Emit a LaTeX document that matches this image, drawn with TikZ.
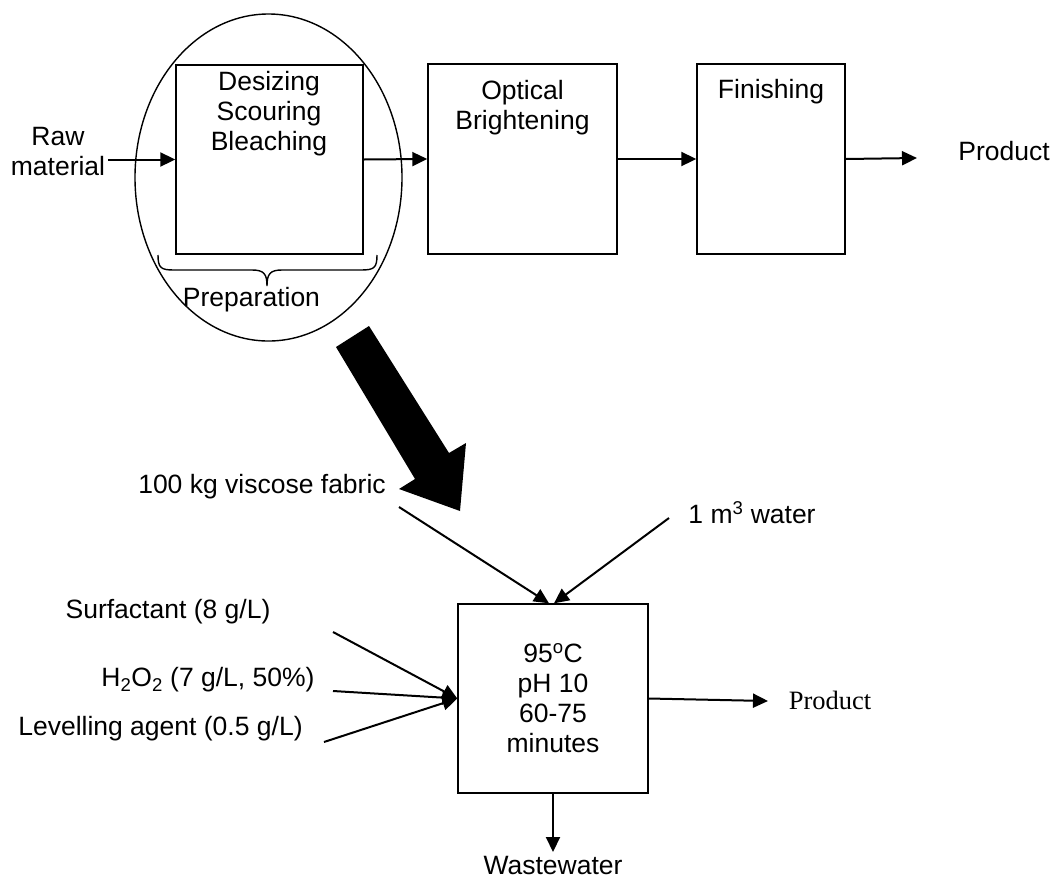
\documentclass[tikz,border=0pt]{standalone}
\usepackage{fontspec}
\setmainfont{Liberation Sans}
\newfontfamily\serifprod{Liberation Serif}
\usetikzlibrary{arrows.meta,shapes.geometric}
\begin{document}
\begin{tikzpicture}[x=1pt,y=-1pt,
  box/.style={draw,line width=1.4pt,inner sep=0pt},
  txt/.style={inner sep=0pt,align=center,font=\fontsize{26.5}{30}\selectfont},
  arr/.style={line width=2pt,-{Triangle[length=15pt,width=14pt]}},
  thin/.style={line width=1.4pt}]
\useasboundingbox (0,0) rectangle (1053,879);
% top row
\node[txt] (raw) at (58,152) {Raw\\material};
\node[box,minimum width=187pt,minimum height=189pt] (b1) at (269.5,159.5) {};
\node[txt] (t1) at (269,114) {Desizing\\Scouring\\Bleaching};
\node[box,minimum width=189pt,minimum height=190pt] (b2) at (522.5,159) {};
\node[txt] (t2) at (522.5,107.5) {Optical\\Brightening};
\node[box,minimum width=148pt,minimum height=190pt] (b3) at (771,159) {};
\node[txt] (t3) at (771,92) {Finishing};
\node[txt] (prod1) at (1004,151) {Product};
\coordinate (p1end) at (917,158);
\draw[arr] ([xshift=3pt]raw.east |- b1.west) -- (b1.west);
\draw[arr] (b1.east) -- (b2.west);
\draw[arr] (b2.east) -- (b3.west);
\draw[arr] (b3.east) -- (p1end);
% ellipse and brace
\node[draw,ellipse,line width=1.4pt,minimum width=267pt,minimum height=327pt,inner sep=0pt] (prep) at (268.5,177.5) {};
\draw[thin] (158,255) .. controls (158,268) and (161,270) .. (174,270) -- (252,270)
  .. controls (264,270) and (267,274) .. (267,286)
  .. controls (267,274) and (270,270) .. (282,270) -- (361,270)
  .. controls (374,270) and (377,268) .. (377,255);
\node[txt] (preptxt) at (251.5,300) {Preparation};
% big arrow
\fill (369,326) -- (449,453) -- (466,443) -- (460,511) -- (399,489) -- (415,479) -- (336,347) -- cycle;
% bottom part
\node[box,txt,minimum width=190pt,minimum height=189pt] (b4) at (553,698.5) {95\textsuperscript{o}C\\pH 10\\60-75\\minutes};
\node[txt] (fab) at (262,487) {100 kg viscose fabric};
\node[txt] (wat) at (752,513) {1 m\textsuperscript{3} water};
\coordinate (fabS) at (399,507);
\coordinate (watS) at (669,518);
\draw[arr] (fabS) -- ([xshift=-4pt]b4.north);
\draw[arr] (watS) -- ([xshift=1pt]b4.north);
\node[txt] (surf) at (168,612) {Surfactant (8 g/L)};
\node[txt] (hoo) at (208,680) {H\textsubscript{2}O\textsubscript{2} (7 g/L, 50\%)};
\node[txt] (lev) at (160.5,729) {Levelling agent (0.5 g/L)};
\coordinate (surfS) at (333,632);
\coordinate (hooS) at (333,691);
\coordinate (levS) at (324,742);
\draw[arr] (surfS) -- (b4.west);
\draw[arr] (hooS) -- (b4.west);
\draw[arr] (levS) -- (b4.west);
\coordinate (p2end) at (768,701);
\draw[arr] (b4.east) -- (p2end);
\node[txt,font=\serifprod\fontsize{26.5}{30}\selectfont] (prod2) at (830,700) {Product};
\coordinate (wwend) at (553,852);
\draw[arr] (b4.south) -- (wwend);
\node[txt,anchor=base] (ww) at (553,874) {Wastewater};
\end{tikzpicture}
\end{document}
